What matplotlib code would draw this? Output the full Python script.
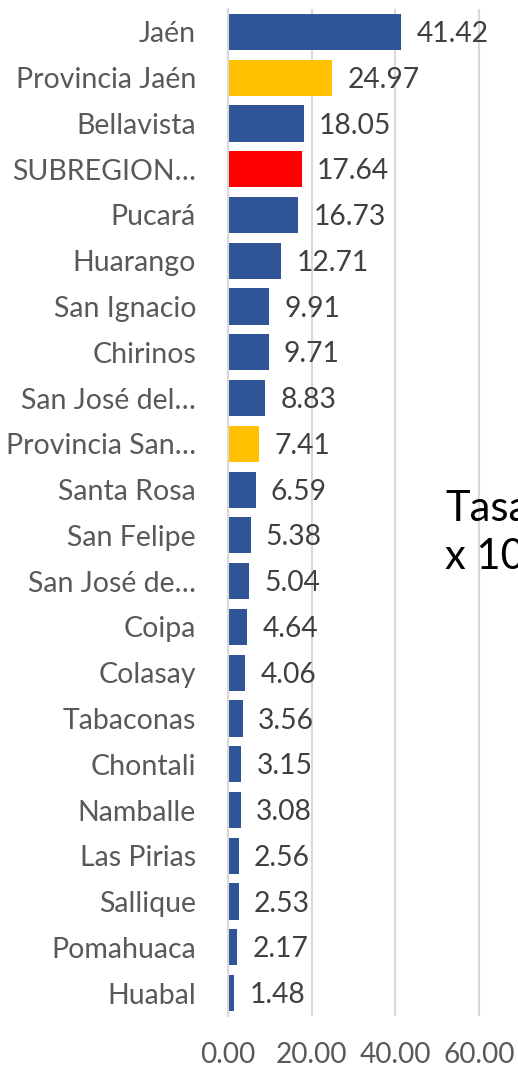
import matplotlib.pyplot as plt

plt.rcParams['font.family'] = ['Lato', 'DejaVu Sans']

categorias = ['Jaén', 'Provincia Jaén', 'Bellavista', 'SUBREGION…', 'Pucará',
              'Huarango', 'San Ignacio', 'Chirinos', 'San José del…',
              'Provincia San…', 'Santa Rosa', 'San Felipe', 'San José de…',
              'Coipa', 'Colasay', 'Tabaconas', 'Chontali', 'Namballe',
              'Las Pirias', 'Sallique', 'Pomahuaca', 'Huabal']
tasas = [41.42, 24.97, 18.05, 17.64, 16.73, 12.71, 9.91, 9.71, 8.83, 7.41,
         6.59, 5.38, 5.04, 4.64, 4.06, 3.56, 3.15, 3.08, 2.56, 2.53, 2.17, 1.48]
tipo = ['d', 'p', 'd', 's', 'd', 'd', 'd', 'd', 'd', 'p', 'd', 'd', 'd',
        'd', 'd', 'd', 'd', 'd', 'd', 'd', 'd', 'd']
colores_tipo = {'d': '#2F5597', 'p': '#FFC000', 's': '#FF0000'}
ticks_x = [0, 20, 40, 60]

fig = plt.figure(figsize=(5.18, 10.70), dpi=100)
ax = fig.add_axes([228 / 518, 1 - 1016 / 1070, 1 - 228 / 518, (1016 - 9) / 1070])

y = list(range(len(categorias)))
colores = [colores_tipo[t] for t in tipo]
ax.barh(y, tasas, height=0.79, color=colores, zorder=3)

for yi, v in zip(y, tasas):
    ax.annotate(f'{v:.2f}', (v, yi), xytext=(11, -1.5), textcoords='offset points',
                va='center', ha='left', fontsize=20.3, color='#404040', zorder=4)

ax.set_ylim(len(categorias) - 0.5, -0.5)
ax.set_xlim(0, 69.3)
ax.set_yticks(y)
ax.set_yticklabels(categorias)
ax.set_xticks(ticks_x)
ax.set_xticklabels([f'{t:.2f}' for t in ticks_x])
ax.tick_params(axis='y', length=0, pad=23, labelsize=20.5, labelcolor='#595959')
ax.tick_params(axis='x', length=0, pad=19, labelsize=20.2, labelcolor='#595959')

ax.grid(axis='x', color='#D9D9D9', linewidth=1.5, zorder=0)
for s in ['top', 'right', 'bottom']:
    ax.spines[s].set_visible(False)
ax.spines['left'].set_color('#D9D9D9')
ax.spines['left'].set_linewidth(1.5)
ax.spines['left'].set_zorder(5)

fig.text(445 / 518, 1 - 533 / 1070, 'Tasa\nx 100 000 hab.', fontsize=30,
         color='black', ha='left', va='center', linespacing=1.35)

fig.savefig('out.png', dpi=100)
